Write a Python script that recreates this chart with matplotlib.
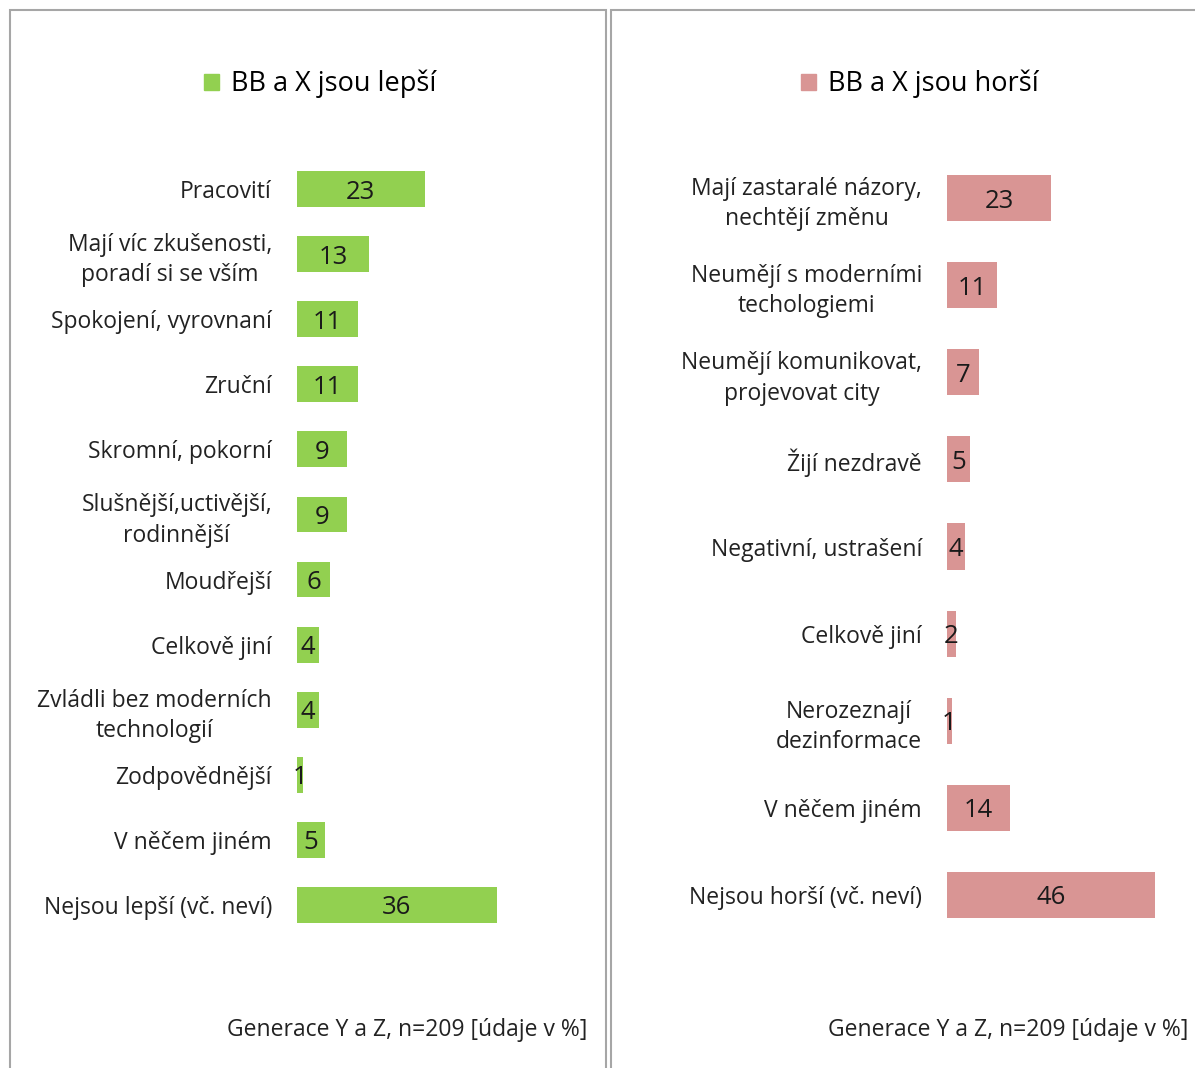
import matplotlib
matplotlib.use("Agg")
import matplotlib.pyplot as plt
from matplotlib.patches import Rectangle, Patch

plt.rcParams['font.family'] = ['Open Sans', 'DejaVu Sans']

# levý panel: v čem jsou BB a X lepší
left_labels = ['Pracovití', 'Mají víc zkušenosti,\nporadí si se vším', 'Spokojení, vyrovnaní',
               'Zruční', 'Skromní, pokorní', 'Slušnější,uctivější,\nrodinnější', 'Moudřejší',
               'Celkově jiní', 'Zvládli bez moderních\ntechnologií', 'Zodpovědnější',
               'V něčem jiném', 'Nejsou lepší (vč. neví)']
left_values = [23, 13, 11, 11, 9, 9, 6, 4, 4, 1, 5, 36]

# pravý panel: v čem jsou BB a X horší
right_labels = ['Mají zastaralé názory,\nnechtějí změnu', 'Neumějí s moderními\ntechologiemi',
                'Neumějí komunikovat,\nprojevovat city', 'Žijí nezdravě', 'Negativní, ustrašení',
                'Celkově jiní', 'Nerozeznají\ndezinformace', 'V něčem jiném',
                'Nejsou horší (vč. neví)']
right_values = [23, 11, 7, 5, 4, 2, 1, 14, 46]

green = '#92D050'
pink = '#D99594'
note = 'Generace Y a Z, n=209 [údaje v %]'

W, H = 1195, 1068
fig = plt.figure(figsize=(W / 100, H / 100), dpi=100)

# rámečky panelů
for x0, x1 in [(10, 606), (611, 1200)]:
    fig.patches.append(Rectangle((x0 / W, -0.01), (x1 - x0) / W, 1 - 10 / H + 0.01,
                                 transform=fig.transFigure, fill=False,
                                 edgecolor='#a6a6a6', lw=1.5))


def panel(rect, labels, values, color, bh, xmax, legend_text, leg_xy, note_x):
    ax = fig.add_axes(rect)
    y = range(len(values))
    bars = ax.barh(y, values, height=bh, color=color)
    ax.set_ylim(len(values) - 0.5, -0.5)
    ax.set_xlim(0, xmax)
    ax.set_yticks(list(y))
    ax.set_yticklabels(labels, fontsize=16.5, color='#222222', linespacing=1.35)
    for t in ax.get_yticklabels():
        t.set_multialignment('center')
    ax.tick_params(axis='y', length=0, pad=18)
    ax.set_xticks([])
    for s in ax.spines.values():
        s.set_visible(False)
    for b, v in zip(bars, values):
        ax.text(v / 2, b.get_y() + b.get_height() / 2, str(v), ha='center',
                va='center_baseline', fontsize=18.5, color='#1a1a1a')
    fig.legend(handles=[Patch(color=color)], labels=[legend_text], loc='center',
               bbox_to_anchor=leg_xy, frameon=False, fontsize=19.5, handlelength=0.55,
               handleheight=0.55, handletextpad=0.45)
    fig.text(note_x, 1 - 1030 / H, note, ha='right', va='center', fontsize=16.5,
             color='#222222')
    return ax


panel([297 / W, 1 - 937.5 / H, 293 / W, 781 / H], left_labels, left_values, green,
      0.55, 293 / 5.55, 'BB a X jsou lepší', (320 / W, 1 - 84 / H), 587 / W)
panel([947 / W, 1 - 938.5 / H, 238 / W, 784 / H], right_labels, right_values, pink,
      0.53, 238 / 4.53, 'BB a X jsou horší', (920 / W, 1 - 84 / H), 1188 / W)

fig.savefig('out.png', dpi=100)
